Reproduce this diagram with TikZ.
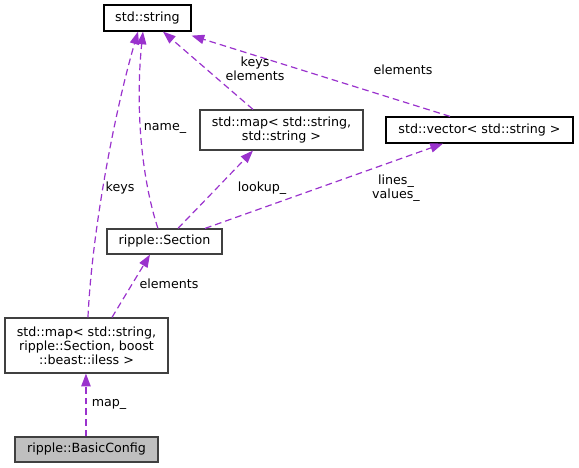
\documentclass[tikz,border=0pt]{standalone}
\usepackage{fontspec}
\setmainfont{DejaVu Sans}
\usetikzlibrary{arrows.meta}
\definecolor{edgepurple}{HTML}{9A32CD}
\definecolor{boxgray}{HTML}{404040}
\begin{document}
\begin{tikzpicture}[x=0.75pt,y=-0.75pt,font=\fontsize{9.5}{10.6}\selectfont,
    member/.style={draw=edgepurple,line width=0.9pt,dash pattern=on 5pt off 3pt,
      -{Triangle[length=9.5pt,width=7pt,fill=edgepurple]}}]
        \useasboundingbox (0,0) rectangle (579,468);

        \begin{scope}[every node/.style={draw,rectangle,inner sep=0pt,align=center,line width=0.9pt,fill=white}]
          \node[minimum width=65.25pt,minimum height=19.5pt]  (string)  at (147.5,18)   {std::string};
          \node[draw=boxgray,minimum width=122.25pt,minimum height=30pt] (mapss)   at (281.5,130)  {std::map< std::string,\\ std::string >};
          \node[minimum width=140.25pt,minimum height=19.5pt] (vector)  at (479.5,130)  {std::vector< std::string >};
          \node[draw=boxgray,minimum width=86.25pt,minimum height=18.75pt] (section) at (164.5,241.5) {ripple::Section};
          \node[draw=boxgray,minimum width=122.25pt,minimum height=41.25pt] (bigmap)  at (86.5,345.5)  {std::map< std::string,\\ ripple::Section, boost\\ ::beast::iless >};
          \node[draw=boxgray,fill=black!25,minimum width=107.25pt,minimum height=18.75pt] (basic) at (86.5,449.5) {ripple::BasicConfig};
        \end{scope}

        \draw[member] ([xshift=1.1pt]bigmap.north) .. controls (92,230) and (115,110) .. ([xshift=-7.1pt]string.south);
        \draw[member] ([xshift=-4.9pt]section.north) .. controls (145,190) and (134,120) .. ([xshift=-3.4pt]string.south);
        \draw[member] ([xshift=-21.4pt]mapss.north) -- ([xshift=11.6pt]string.south);
        \draw[member] ([xshift=-22.1pt]vector.north) -- ([yshift=-3pt]string.south east);
        \draw[member] ([xshift=10.1pt]section.north) -- ([xshift=-21.4pt]mapss.south);
        \draw[member] ([xshift=30.4pt]section.north) -- ([xshift=-27.4pt]vector.south);
        \draw[member] ([xshift=19.1pt]bigmap.north) -- ([xshift=-10.9pt]section.south);
        \draw[member] ([xshift=-0.4pt]basic.north) -- ([xshift=-0.4pt]bigmap.south);

        \begin{scope}[every node/.style={align=center,inner sep=0pt}]
          \node (lkeys)     at (120,188) {keys};
          \node (lname)     at (165,128) {name\_};
          \node (lkeyselem) at (255,69)  {keys\\elements};
          \node (lvecelem)  at (403,70)  {elements};
          \node (llookup)   at (262,188) {lookup\_};
          \node (llines)    at (396,188) {lines\_\\values\_};
          \node (lsecelem)  at (169,284) {elements};
          \node (lmap)      at (109,404) {map\_};
        \end{scope}

      \end{tikzpicture}
\end{document}
